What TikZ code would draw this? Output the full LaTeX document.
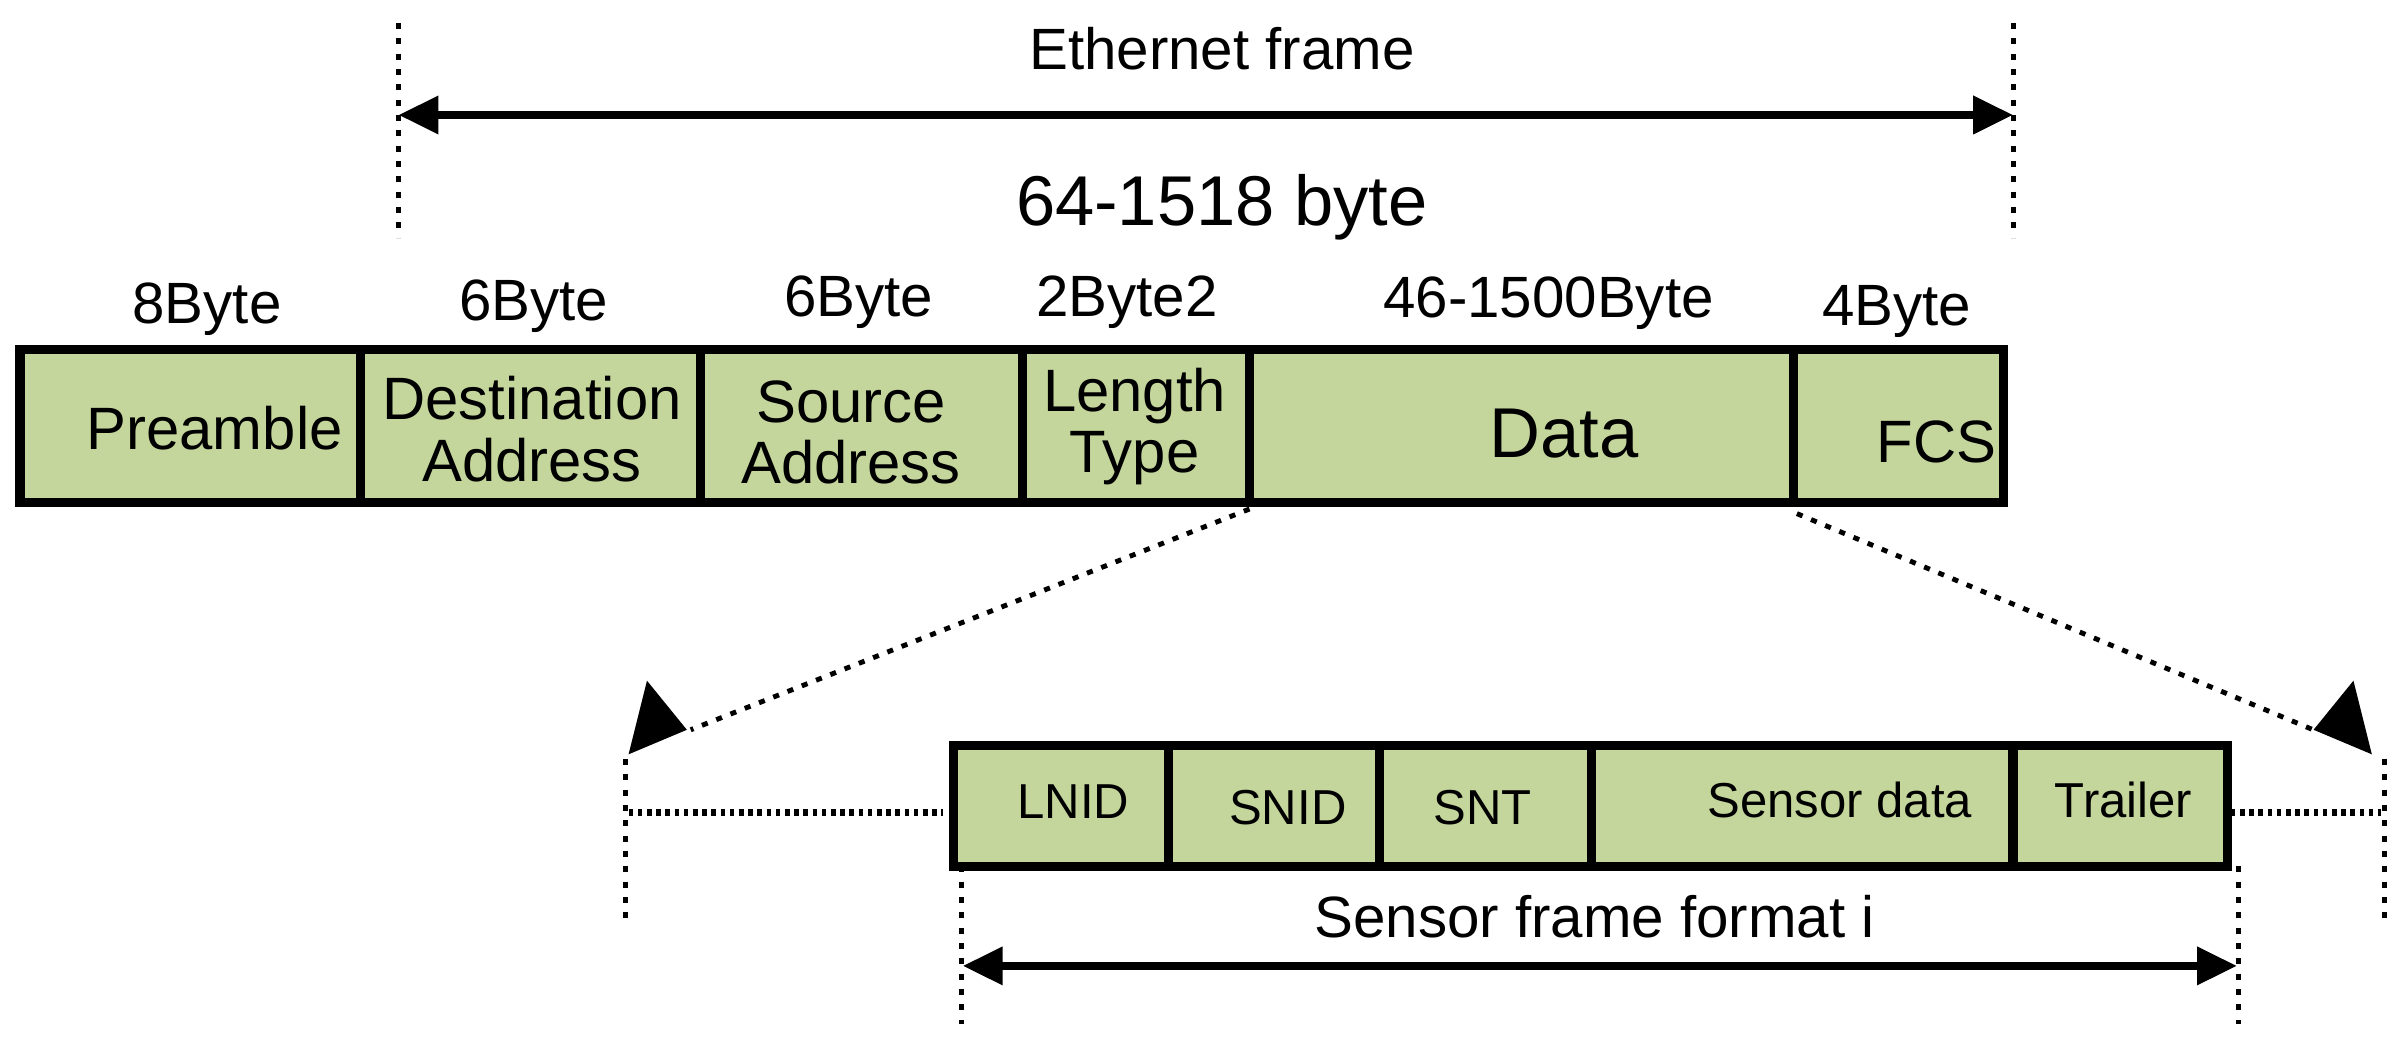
\documentclass[tikz,border=0pt]{standalone}
\usepackage{fontspec}
\setmainfont{Liberation Sans}
\usetikzlibrary{arrows.meta,calc}
\definecolor{fillg}{HTML}{C4D69B}
\begin{document}
\begin{tikzpicture}[x=0.5pt,y=-0.5pt,
  cell/.style={draw=black,line width=3pt,fill=fillg},
  dotv/.style={line width=1.6pt,dash pattern=on 2pt off 3pt},
  dim/.style={line width=2.5pt,{Triangle[length=13pt,width=12pt]}-{Triangle[length=13pt,width=12pt]}},
  lbl/.style={font=\fontsize{19}{21}\selectfont},
  txt/.style={font=\fontsize{19.5}{20}\selectfont,align=center},
  stxt/.style={font=\fontsize{16}{18}\selectfont}]
\useasboundingbox (0,0) rectangle (1568,678);
% top dimension
\draw[dotv] (260,15) coordinate(t1) -- (260,155) coordinate(t1b);
\draw[dotv] (1313,15) coordinate(t2) -- (1313,155) coordinate(t2b);
\coordinate (ea) at (260,75); \coordinate (eb) at (1313,75);
\draw[dim] (ea) -- (eb);
\node[lbl] (eth) at (797,32) {Ethernet frame};
\node[font=\fontsize{23}{25}\selectfont] (sz) at (797,135) {64-1518 byte};
% byte labels
\node[lbl] (b1) at (135,202) {8Byte};
\node[lbl] (b2) at (348,200) {6Byte};
\node[lbl] (b3) at (560,197) {6Byte};
\node[lbl] (b4) at (735,197) {2Byte2};
\node[lbl] (b5) at (1010,198) {46-1500Byte};
\node[lbl] (b6) at (1237,203) {4Byte};
% main frame cells
\draw[cell] (13,228) rectangle (235,328);
\draw[cell] (235,228) rectangle (457,328);
\draw[cell] (457,228) rectangle (667,328);
\draw[cell] (667,228) rectangle (815,328);
\draw[cell] (815,228) rectangle (1170,328);
\draw[cell] (1170,228) rectangle (1307,328);
\node[txt] (pre) at (140,279) {Preamble};
\node[txt] (dst) at (347,280) {Destination\\Address};
\node[txt] (src) at (555,282) {Source\\Address};
\node[txt] (len) at (740,278) {Length\\Type};
\node[font=\fontsize{23}{25}\selectfont] (dat) at (1020,283) {Data};
\node[txt] (fcs) at (1263,288) {FCS};
% zoom lines
\coordinate (z1) at (815,332); \coordinate (z1t) at (410,492);
\coordinate (z2) at (1172,335); \coordinate (z2t) at (1547,492);
\draw[line width=1.6pt,dash pattern=on 2pt off 3pt] (z1) -- ($(z1)!0.9!(z1t)$);
\draw[line width=1.6pt,dash pattern=on 2pt off 3pt] (z2) -- ($(z2)!0.9!(z2t)$);
\fill (z1t) -- ++(12,-48) -- ++(26,32) -- cycle;
\fill (z2t) -- ++(-12,-48) -- ++(-26,32) -- cycle;
\draw[dotv] (408,495) -- (408,600);
\draw[dotv] (1555,495) -- (1555,600);
\draw[line width=2.5pt,dash pattern=on 1.5pt off 1.5pt] (410,530) -- (615,530);
\draw[line width=2.5pt,dash pattern=on 1.5pt off 1.5pt] (1455,530) -- (1553,530);
% sensor frame
\draw[cell] (622,486) rectangle (762,565);
\draw[cell] (762,486) rectangle (900,565);
\draw[cell] (900,486) rectangle (1038,565);
\draw[cell] (1038,486) rectangle (1313,565);
\draw[cell] (1313,486) rectangle (1453,565);
\node[stxt] (ln) at (700,523) {LNID};
\node[stxt] (sn) at (840,527) {SNID};
\node[stxt] (st) at (967,527) {SNT};
\node[stxt] (sd) at (1200,522) {Sensor data};
\node[stxt] (tr) at (1385,522) {Trailer};
% bottom dimension
\draw[dotv] (627,565) -- (627,668);
\draw[dotv] (1460,565) -- (1460,668);
\coordinate (sa) at (628,630); \coordinate (sb) at (1459,630);
\draw[dim] (sa) -- (sb);
\node[lbl] (sff) at (1040,598) {Sensor frame format i};
\end{tikzpicture}
\end{document}
